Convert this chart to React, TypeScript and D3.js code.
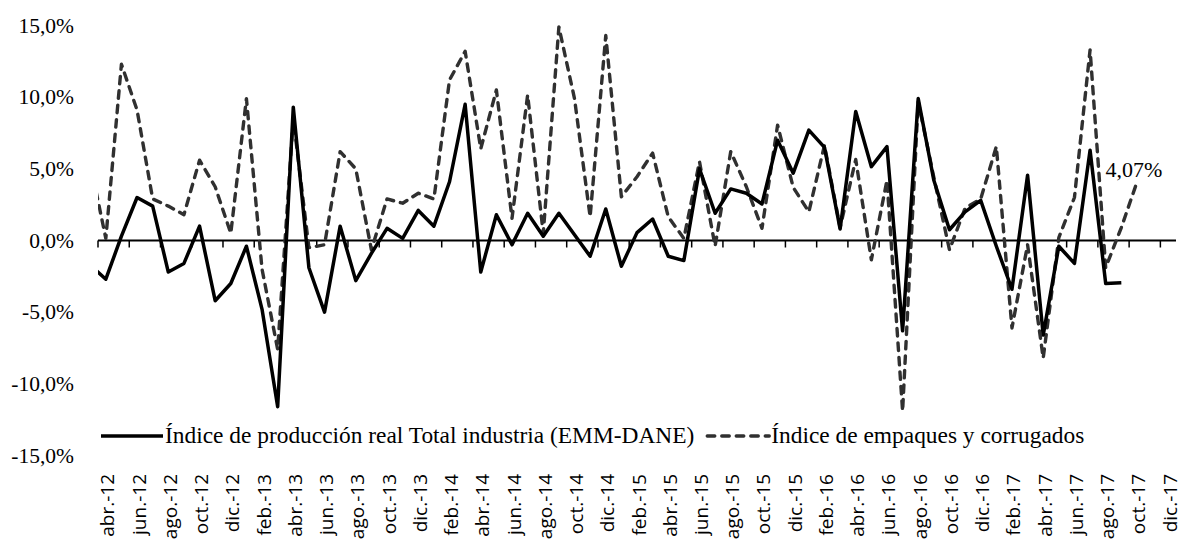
import React, { useRef, useEffect } from 'react';
import * as d3 from 'd3';

// meses (mar.-12 queda fuera del área del gráfico, sólo se ve el tramo recortado)
const months = [
  'mar.-12', 'abr.-12', 'may.-12', 'jun.-12', 'jul.-12', 'ago.-12', 'sep.-12', 'oct.-12', 'nov.-12', 'dic.-12',
  'ene.-13', 'feb.-13', 'mar.-13', 'abr.-13', 'may.-13', 'jun.-13', 'jul.-13', 'ago.-13', 'sep.-13', 'oct.-13', 'nov.-13', 'dic.-13',
  'ene.-14', 'feb.-14', 'mar.-14', 'abr.-14', 'may.-14', 'jun.-14', 'jul.-14', 'ago.-14', 'sep.-14', 'oct.-14', 'nov.-14', 'dic.-14',
  'ene.-15', 'feb.-15', 'mar.-15', 'abr.-15', 'may.-15', 'jun.-15', 'jul.-15', 'ago.-15', 'sep.-15', 'oct.-15', 'nov.-15', 'dic.-15',
  'ene.-16', 'feb.-16', 'mar.-16', 'abr.-16', 'may.-16', 'jun.-16', 'jul.-16', 'ago.-16', 'sep.-16', 'oct.-16', 'nov.-16', 'dic.-16',
  'ene.-17', 'feb.-17', 'mar.-17', 'abr.-17', 'may.-17', 'jun.-17', 'jul.-17', 'ago.-17', 'sep.-17', 'oct.-17', 'nov.-17', 'dic.-17'
];

// variación anual (%), desde mar.-12
const industria = [
  -1.7, -2.7, 0.3, 3.0, 2.4, -2.2, -1.6, 1.0, -4.2, -3.0,
  -0.4, -4.8, -11.6, 9.3, -1.9, -5.0, 1.0, -2.8, -0.9, 0.85, 0.15, 2.1,
  1.0, 4.1, 9.5, -2.2, 1.8, -0.3, 1.9, 0.3, 1.9, 0.4, -1.1, 2.2,
  -1.8, 0.55, 1.5, -1.1, -1.4, 5.0, 1.9, 3.6, 3.3, 2.55, 7.0, 4.7,
  7.7, 6.5, 0.8, 9.0, 5.15, 6.55, -6.3, 9.9, 4.2, 0.75, 2.0, 2.8,
  -0.4, -3.4, 4.55, -6.6, -0.4, -1.6, 6.3, -3.0, -2.95
];

const empaques = [
  5.4, 0.15, 12.3, 9.1, 2.9, 2.4, 1.8, 5.6, 3.75, 0.5,
  9.9, -2.0, -7.6, 8.5, -0.5, -0.3, 6.2, 5.0, -0.65, 2.9, 2.6, 3.3,
  2.9, 11.2, 13.2, 6.4, 10.5, 1.55, 10.15, 0.5, 14.9, 9.9, 1.65, 14.3,
  3.05, 4.45, 6.1, 1.65, 0.15, 5.5, -0.4, 6.2, 3.75, 0.85, 8.05, 3.7,
  2.0, 6.65, 0.9, 5.65, -1.35, 4.2, -11.9, 9.7, 4.4, -0.65, 2.25, 2.9,
  6.55, -6.1, -0.3, -8.2, 0.2, 3.0, 13.3, -1.9, 0.9, 4.07
];

const yTicks = [-15, -10, -5, 0, 5, 10, 15];

const legendItems = [
  { name: 'Índice de producción real Total industria (EMM-DANE)', dash: null, color: '#000', width: 3.5 },
  { name: 'Índice de empaques y corrugados', dash: '7.5,7', color: '#303030', width: 3.4 }
];

const W = 1183;
const H = 543;
const plot = { left: 98, right: 1176, top: 25.5, bottom: 455.5 };

const es = d3.formatLocale({ decimal: ',', thousands: '.', grouping: [3], currency: ['', ''], minus: '-' });
const pct = es.format('.1f');
const pct2 = es.format('.2f');

const App = () => {
  const svgRef = useRef(null);

  useEffect(() => {
    const svg = d3.select(svgRef.current);
    svg.selectAll('*').remove();

    const step = (plot.right - plot.left) / (months.length - 1);
    const x = d3.scaleBand().domain(months).range([plot.left - step, plot.right]);
    const cx = m => x(m) + x.bandwidth() / 2;
    const y = d3.scaleLinear().domain([-15, 15]).range([plot.bottom, plot.top]);

    svg.append('clipPath').attr('id', 'plot-clip')
      .append('rect')
      .attr('x', plot.left).attr('y', 0)
      .attr('width', plot.right - plot.left).attr('height', H);

    // eje cero
    const axis = svg.append('g').attr('class', 'x-axis');
    axis.append('line')
      .attr('x1', plot.left).attr('x2', plot.right)
      .attr('y1', y(0)).attr('y2', y(0))
      .attr('stroke', '#000').attr('stroke-width', 2);

    const labelled = months.filter((m, i) => i % 2 === 1);
    axis.selectAll('.tick')
      .data(labelled)
      .join('line')
      .attr('class', 'tick')
      .attr('x1', d => x(d)).attr('x2', d => x(d))
      .attr('y1', y(0)).attr('y2', y(0) + 7)
      .attr('stroke', '#000').attr('stroke-width', 1.5);

    svg.append('g')
      .selectAll('text')
      .data(labelled)
      .join('text')
      .attr('transform', d => `translate(${cx(d) + 1.5}, 474) rotate(-90)`)
      .attr('text-anchor', 'end')
      .attr('dominant-baseline', 'central')
      .attr('font-family', '"Open Sans", sans-serif')
      .attr('font-size', 19)
      .attr('fill', '#000')
      .text(d => d);

    // eje y (sólo etiquetas)
    svg.append('g')
      .selectAll('text')
      .data(yTicks)
      .join('text')
      .attr('x', 74)
      .attr('y', d => y(d))
      .attr('text-anchor', 'end')
      .attr('dominant-baseline', 'central')
      .attr('font-family', '"Liberation Serif", serif')
      .attr('font-size', 21.5)
      .attr('fill', '#000')
      .text(d => pct(d) + '%');

    const line = d3.line()
      .x((d, i) => cx(months[i]))
      .y(d => y(d));

    const lines = svg.append('g').attr('clip-path', 'url(#plot-clip)');
    lines.append('path')
      .datum(empaques)
      .attr('d', line)
      .attr('fill', 'none')
      .attr('stroke', legendItems[1].color)
      .attr('stroke-width', legendItems[1].width)
      .attr('stroke-dasharray', legendItems[1].dash)
      .attr('stroke-linecap', 'round')
      .attr('stroke-linejoin', 'round');
    lines.append('path')
      .datum(industria)
      .attr('d', line)
      .attr('fill', 'none')
      .attr('stroke', legendItems[0].color)
      .attr('stroke-width', legendItems[0].width)
      .attr('stroke-linejoin', 'round');

    // etiqueta del último dato
    const last = empaques.length - 1;
    svg.append('text')
      .attr('x', cx(months[last]) - 3)
      .attr('y', y(empaques[last]) - 5)
      .attr('text-anchor', 'middle')
      .attr('font-family', '"Liberation Serif", serif')
      .attr('font-size', 22)
      .attr('fill', '#000')
      .text(pct2(empaques[last]) + '%');

    // leyenda
    const legend = svg.append('g').attr('class', 'legend');
    let lx = 101;
    legendItems.forEach(item => {
      legend.append('line')
        .attr('x1', lx).attr('x2', lx + 62)
        .attr('y1', 436).attr('y2', 436)
        .attr('stroke', item.color)
        .attr('stroke-width', item.width)
        .attr('stroke-dasharray', item.dash)
        .attr('stroke-linecap', item.dash ? 'round' : 'butt');
      const t = legend.append('text')
        .attr('x', lx + 64)
        .attr('y', 443)
        .attr('font-family', '"Liberation Serif", serif')
        .attr('font-size', 23.4)
        .attr('fill', '#000')
        .text(item.name);
      lx += 64 + t.node().getComputedTextLength() + 13;
    });
  }, []);

  return (
    <svg
      ref={svgRef}
      width={W}
      height={H}
      style={{ position: 'absolute', left: 0, top: 0, background: '#fff' }}
    />
  );
};

export default App;
